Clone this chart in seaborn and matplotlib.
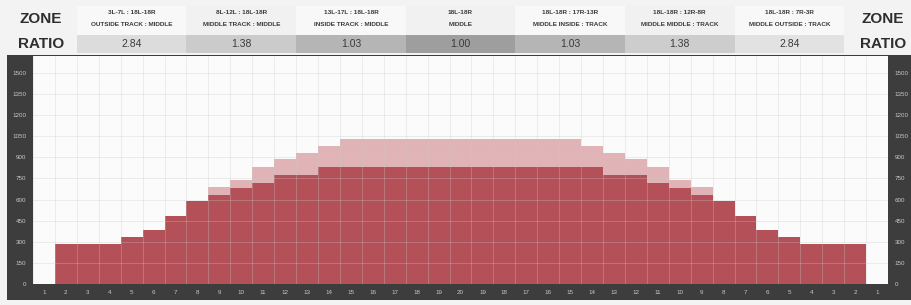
import numpy as np
import pandas as pd
import matplotlib
matplotlib.use("Agg")
import matplotlib.pyplot as plt
import seaborn as sns
from matplotlib.patches import Rectangle
from matplotlib.transforms import blended_transform_factory
from matplotlib.ticker import FixedLocator

# ---------------- data ----------------
col_labels = [str(i) for i in range(1, 21)] + [str(i) for i in range(19, 0, -1)]
dark_values = [0, 286, 286, 286, 336, 386, 486, 593, 629, 679, 721, 771, 771, 829, 829,
               829, 829, 829, 829, 829, 829, 829, 829, 829, 829, 829, 771, 771, 721, 679,
               629, 593, 486, 386, 336, 286, 286, 286, 0]
total_values = [0, 286, 286, 286, 336, 386, 486, 593, 686, 736, 829, 886, 929, 979, 1029,
                1029, 1029, 1029, 1029, 1029, 1029, 1029, 1029, 1029, 1029, 979, 929, 886, 829, 736,
                686, 593, 486, 386, 336, 286, 286, 286, 0]
zone_line1 = ["3L-7L : 18L-18R", "8L-12L : 18L-18R", "13L-17L : 18L-18R", "18L-18R",
              "18L-18R : 17R-13R", "18L-18R : 12R-8R", "18L-18R : 7R-3R"]
zone_line2 = ["OUTSIDE TRACK : MIDDLE", "MIDDLE TRACK : MIDDLE", "INSIDE TRACK : MIDDLE",
              "MIDDLE", "MIDDLE INSIDE : TRACK", "MIDDLE MIDDLE : TRACK", "MIDDLE OUTSIDE : TRACK"]
zone_ratios = ["2.84", "1.38", "1.03", "1.00", "1.03", "1.38", "2.84"]
ratio_colors = ["#dcdcdc", "#cbcbcb", "#b5b5b5", "#9e9e9e", "#b5b5b5", "#cdcdcd", "#e2e2e2"]
y_ticks = list(range(0, 1501, 150))

df = pd.DataFrame({"pos": list(range(len(col_labels))),
                   "dark": dark_values, "total": total_values})

# ---------------- style ----------------
sns.set_theme(style="white")
plt.rcParams["font.family"] = ["Liberation Sans", "DejaVu Sans"]

W, H = 911, 305
fig = plt.figure(figsize=(W / 100, H / 100), dpi=100)
fig.patch.set_facecolor("#f3f3f3")

# dark frame band
fig.add_artist(Rectangle((7 / W, 5 / H), 904 / W, 245 / H, transform=fig.transFigure,
                         facecolor="#3d3d3d", edgecolor="none", zorder=0))

ax = fig.add_axes([33 / W, 21 / H, 855 / W, 228 / H])
ax.set_facecolor("#fbfbfb")

PINK = "#e0b4b6"
RED = "#b45058"
sns.barplot(data=df, x="pos", y="total", color=PINK, width=1.0, saturation=1,
            linewidth=0, ax=ax)
sns.barplot(data=df, x="pos", y="dark", color=RED, width=1.0, saturation=1,
            linewidth=0, ax=ax)

ax.set_xlim(-0.5, len(col_labels) - 0.5)
ax.set_ylim(0, 1620)
ax.set_xticks(range(len(col_labels)))
ax.set_xticklabels(col_labels)
ax.set_yticks(y_ticks)
ax.set_yticklabels([str(v) for v in y_ticks])
ax.xaxis.set_minor_locator(FixedLocator(np.arange(-0.5, len(col_labels), 1.0)))
ax.set_xlabel("")
ax.set_ylabel("")
for s in ax.spines.values():
    s.set_visible(False)

ax.set_axisbelow(False)
ax.grid(False)
ax.grid(True, axis="y", which="major", color="#c8c8c8", alpha=0.45, linewidth=0.5)
ax.grid(True, axis="x", which="minor", color="#c8c8c8", alpha=0.45, linewidth=0.5)

ax.tick_params(axis="both", which="both", length=0, labelsize=4.5, labelcolor="#c8c8c8")
ax.tick_params(axis="y", labelright=True, labelleft=True, pad=5)
ax.tick_params(axis="x", pad=4.5)

# ---------------- header ----------------
trans = blended_transform_factory(ax.transData, fig.transFigure)
row1_y0, row1_h = (H - 35) / H, 29 / H
row2_y0, row2_h = (H - 53) / H, 18 / H
for i in range(len(zone_ratios)):
    x0 = 1.5 + 5 * i
    fig.add_artist(Rectangle((x0, row1_y0), 5, row1_h, transform=trans,
                             facecolor="#f8f8f8" if i % 2 == 0 else "#f1f1f1",
                             edgecolor="none", zorder=1))
    fig.add_artist(Rectangle((x0, row2_y0), 5, row2_h, transform=trans,
                             facecolor=ratio_colors[i], edgecolor="none", zorder=1))
    xc = x0 + 2.5
    fig.text(xc, (H - 13) / H, zone_line1[i], transform=trans, ha="center", va="center",
             fontsize=4.6, fontweight="bold", color="#3a3a3a", zorder=3)
    fig.text(xc, (H - 24) / H, zone_line2[i], transform=trans, ha="center", va="center",
             fontsize=4.6, fontweight="bold", color="#3a3a3a", zorder=3)
    fig.text(xc, (H - 44) / H, zone_ratios[i], transform=trans, ha="center", va="center",
             fontsize=7.5, color="#3a3a3a", zorder=3)

for xpix in (41, 883):
    fig.text(xpix / W, (H - 19) / H, "ZONE", ha="center", va="center", fontsize=11,
             fontweight="bold", color="#2e2e2e")
    fig.text(xpix / W, (H - 44) / H, "RATIO", ha="center", va="center", fontsize=11,
             fontweight="bold", color="#2e2e2e")

fig.savefig("out.png", dpi=100, facecolor=fig.get_facecolor())
